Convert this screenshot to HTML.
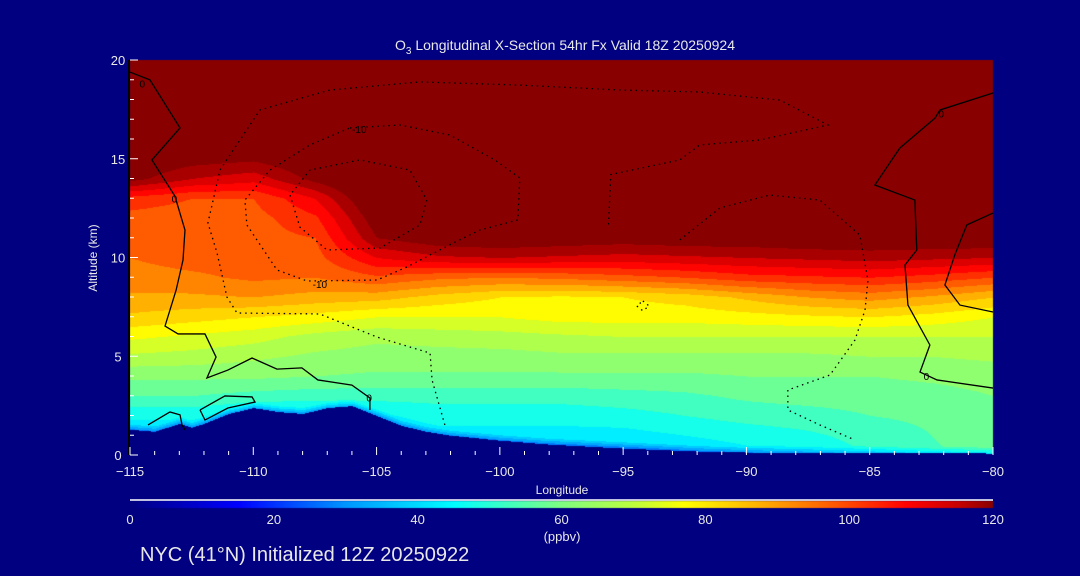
<!DOCTYPE html>
<html><head><meta charset="utf-8"><style>
html,body{margin:0;padding:0;background:#000080;}
#wrap{position:relative;width:1080px;height:576px;background:#000080;overflow:hidden;font-family:"Liberation Sans",sans-serif;color:#e8e8e8}
canvas,svg{position:absolute;left:0;top:0}
</style></head><body>
<div id="wrap">
<canvas id="cv" width="1080" height="576"></canvas>
<svg id="sv" width="1080" height="576"></svg>
</div>
<script>
// ---- data ----
const lons=[-115,-112.5,-110,-107.5,-105,-102.5,-100,-97.5,-95,-92.5,-90,-87.5,-85,-82.5,-80];
const alts=[0,1,2,3,4,5,6,7,8,9,10,11,12,13,14,16,20];
// ozone (ppbv) rows by altitude, columns by longitude
const o3=[
[40,40,40,40,40,40,40,38,38,40,43,46,50,54,57],
[41,41,40,40,41,43,43,43,43,45,47,49,52,55,59],
[46,46,43,43,44,47,47,47,48,50,52,53,55,56,58],
[55,55,53,52,52,52,52,52,53,54,56,57,57,58,60],
[61,61,61,60,59,59,59,59,59,59,60,60,60,61,62],
[69,68,66,64,63,63,63,64,64,64,64,64,65,65,66],
[76,74,72,68,66,67,68,69,70,70,70,70,70,70,70],
[84,82,80,78,75,75,75,77,77,77,78,79,80,78,75],
[89,89,90,88,87,83,80,79,80,82,86,90,92,89,85],
[93,94,96,95,99,96,95,96,98,100,103,104,105,103,100],
[95,97,97,98,110,114,115,114,113,114,115,116,117,116,115],
[97,97,98,100,120,124,125,124,123,124,124,125,125,125,125],
[98,97,98,104,124,128,130,130,130,130,130,130,130,130,130],
[103,100,100,110,128,130,130,130,130,130,130,130,130,130,130],
[122,115,112,122,130,130,130,130,130,130,130,130,130,130,130],
[130,130,130,130,130,130,130,130,130,130,130,130,130,130,130],
[130,130,130,130,130,130,130,130,130,130,130,130,130,130,130]];
const terrLon=[-115,-114,-113,-112.5,-112,-111,-110,-109,-108,-107,-106,-105,-104,-103,-102,-100,-98,-95,-92,-90,-85,-80];
const terrAlt=[1.3,1.2,1.6,1.4,1.6,2.1,2.4,2.2,2.1,2.4,2.5,2.0,1.5,1.2,1.0,0.75,0.55,0.35,0.2,0.15,0.12,0.1];
const xTicks=[-115,-110,-105,-100,-95,-90,-85,-80];
const yTicks=[0,5,10,15,20];
const cbTicks=[0,20,40,60,80,100,120];
// contour lines (lon, alt)
const solidLines=[
[[-115,19.39],[-114.19,18.99],[-112.97,16.56],[-114.11,14.94],[-113.18,13.11],[-112.77,11.39],[-112.85,9.87],[-113.13,8.35],[-113.58,6.53],[-113.05,6.13],[-111.96,6.13],[-111.51,4.96],[-111.88,3.9],[-111.03,4.3],[-110.05,4.91],[-109.04,4.35],[-108.03,4.41],[-107.38,3.8],[-106,3.54],[-105.27,2.89],[-105.27,2.28]],
[[-112.16,2.28],[-111.15,2.99],[-110.05,2.94],[-109.93,2.68],[-111.03,2.38],[-111.96,1.77],[-112.16,2.28]],
[[-114.27,1.52],[-113.38,2.18],[-112.97,2.03],[-112.89,1.52],[-112.77,1.27]],
[[-80,18.33],[-82.15,17.47],[-82.35,17.06],[-83.78,15.54],[-84.79,13.67],[-83.17,12.91],[-83.09,10.38],[-83.57,9.62],[-83.45,7.59],[-82.56,5.57],[-82.96,4.2],[-82.27,3.8],[-80,3.39]],
[[-80,12.25],[-81.06,11.65],[-81.55,10.13],[-81.95,8.61],[-81.34,7.59],[-80,7.24]]];
const dottedLines=[
[[-102.23,1.52],[-102.75,3.8],[-102.83,5.16],[-104.98,5.97],[-107.3,7.14],[-110.66,7.19],[-111.07,8.0],[-111.47,10.23],[-111.84,11.75],[-111.35,14.43],[-109.73,17.47],[-106.89,18.48],[-103.24,18.89],[-99.19,18.73],[-95.13,18.48],[-91.89,18.38],[-88.64,17.97],[-86.69,16.71],[-89.45,15.95],[-91.89,15.7],[-92.7,14.94],[-95.5,14.2],[-95.6,11.5]],
[[-92.7,10.89],[-91.07,12.51],[-89.05,13.16],[-87.02,12.91],[-85.4,11.14],[-85.07,8.86],[-85.19,7.34],[-85.6,5.82],[-86.61,4.05],[-88.32,3.29],[-88.32,2.28],[-87.02,1.52],[-85.6,0.76]],
[[-106.08,16.56],[-104.05,16.71],[-102.02,16.2],[-100.2,14.94],[-99.19,14.03],[-99.27,11.9],[-100.81,11.39],[-101.9,10.73],[-103.77,9.52],[-104.98,8.86],[-107.82,8.81],[-109.04,9.37],[-110.26,11.65],[-110.34,12.91],[-109.32,14.43],[-107.7,15.7],[-106.08,16.56]],
[[-108.51,13.16],[-108.11,11.54],[-107.01,10.38],[-104.86,10.48],[-103.24,11.65],[-102.96,12.91],[-103.65,14.43],[-105.67,14.94],[-107.7,14.43],[-108.51,13.16]],
[[-94.2,7.8],[-93.95,7.55],[-94.2,7.3],[-94.45,7.55],[-94.2,7.8]]];
const contourLabels=[["-10",-105.7,16.5],["-10",-107.3,8.65],["0",-114.5,18.8],["0",-113.2,13.0],["0",-105.3,2.9],["0",-82.7,4.0],["0",-82.1,17.3]];

// ---- axes ----
const X0=130,X1=993,Y0=455,Y1=60;
const xs=l=>X0+(l+115)/35*(X1-X0);
const ys=a=>Y0-a/20*(Y0-Y1);
const stops=[[0,[0,0,128]],[15,[0,0,255]],[30,[0,150,255]],[45,[0,255,255]],[60,[128,255,128]],[70,[190,255,60]],[77,[255,255,0]],[87,[255,180,0]],[97,[255,95,0]],[108,[255,0,0]],[115,[200,0,0]],[120,[136,0,0]]];
function cmap(v){v=Math.max(0,Math.min(120,v));for(let i=1;i<stops.length;i++){if(v<=stops[i][0]){const a=stops[i-1],b=stops[i],t=(v-a[0])/(b[0]-a[0]);return a[1].map((c,k)=>Math.round(c+(b[1][k]-c)*t));}}return stops[stops.length-1][1];}
function interp1(xa,ya,x){if(x<=xa[0])return ya[0];for(let i=1;i<xa.length;i++){if(x<=xa[i]){const t=(x-xa[i-1])/(xa[i]-xa[i-1]);return ya[i-1]+t*(ya[i]-ya[i-1]);}}return ya[ya.length-1];}
function field(lon,alt){
  let i=0;while(i<lons.length-2&&lon>lons[i+1])i++;
  let j=0;while(j<alts.length-2&&alt>alts[j+1])j++;
  const tx=Math.max(0,Math.min(1,(lon-lons[i])/(lons[i+1]-lons[i])));
  const ty=Math.max(0,Math.min(1,(alt-alts[j])/(alts[j+1]-alts[j])));
  const a=o3[j][i],b=o3[j][i+1],c=o3[j+1][i],d=o3[j+1][i+1];
  return (a*(1-tx)+b*tx)*(1-ty)+(c*(1-tx)+d*tx)*ty;
}
const cv=document.getElementById('cv'),ctx=cv.getContext('2d');
ctx.fillStyle='#000080';ctx.fillRect(0,0,1080,576);
const img=ctx.getImageData(0,0,1080,576);
for(let py=Y1;py<Y0;py++){for(let px=X0;px<X1;px++){
  const lon=-115+(px-X0)/(X1-X0)*35, alt=(Y0-py)/(Y0-Y1)*20;
  const t=interp1(terrLon,terrAlt,lon);
  if(alt<t)continue;
  let v=field(lon,alt);
  if(alt-t<0.35)v=Math.min(v,v-(0.35-(alt-t))*40);
  v=Math.floor(v/5)*5+2.5;
  const c=cmap(v);const k=(py*1080+px)*4;img.data[k]=c[0];img.data[k+1]=c[1];img.data[k+2]=c[2];img.data[k+3]=255;}}
// colorbar
for(let px=X0;px<X1;px++){const c=cmap((px-X0)/(X1-X0)*120);for(let py=501;py<508;py++){const k=(py*1080+px)*4;img.data[k]=c[0];img.data[k+1]=c[1];img.data[k+2]=c[2];img.data[k+3]=255;}}
ctx.putImageData(img,0,0);

const NS='http://www.w3.org/2000/svg',sv=document.getElementById('sv');
function mk(tag,attrs,parent){const e=document.createElementNS(NS,tag);for(const k in attrs)e.setAttribute(k,attrs[k]);(parent||sv).appendChild(e);return e;}
function txt(s,x,y,size,anchor,name){const t=mk('text',{x:x,y:y,'font-size':size,'text-anchor':anchor||'middle',fill:'#e8e8e8','font-family':'Liberation Sans, sans-serif'});t.textContent=s;


return t;}
// contours
solidLines.forEach(l=>{const p=mk('polyline',{points:l.map(q=>xs(q[0])+','+ys(q[1])).join(' '),fill:'none',stroke:'#000','stroke-width':1.3});

});
dottedLines.forEach(l=>{const p=mk('polyline',{points:l.map(q=>xs(q[0])+','+ys(q[1])).join(' '),fill:'none',stroke:'#000','stroke-width':1.3,'stroke-dasharray':'1.5 4'});

});
contourLabels.forEach(c=>{const t=mk('text',{x:xs(c[1]),y:ys(c[2])+4,'font-size':10,'text-anchor':'middle',fill:'#000','font-family':'Liberation Sans, sans-serif'});t.textContent=c[0];

});
// axes
mk('line',{x1:X0-1,y1:Y1,x2:X0-1,y2:Y0,stroke:'#000','stroke-width':2});
for(let a=0;a<=20;a++){const l=mk('line',{x1:X0,y1:ys(a),x2:X0+(a%5==0?8:4),y2:ys(a),stroke:'#fff','stroke-width':1});

}
for(let g=-115;g<=-80;g++){const l=mk('line',{x1:xs(g),y1:Y0,x2:xs(g),y2:Y0-(g%5==0?8:4),stroke:'#fff','stroke-width':1});

}
yTicks.forEach(a=>txt(String(a),118,ys(a)+5,13,'middle','y-tick-label'));
xTicks.forEach(g=>txt(String(g).replace('-','\u2212'),xs(g),476,13,'middle','x-tick-label'));
txt('Longitude',562,494,12,'middle','x-axis-title');
const yt=txt('Altitude (km)',0,0,12,'middle','y-axis-title');yt.setAttribute('transform','translate(97,258) rotate(-90)');
const tt=txt('',565,50,14,'middle','chart-title');tt.innerHTML='O<tspan font-size="10" dy="4">3</tspan><tspan dy="-4"> Longitudinal X-Section 54hr  Fx Valid 18Z 20250924</tspan>';
tt.setAttribute('xml:space','preserve');
// colorbar
mk('line',{x1:X0,y1:500,x2:X1,y2:500,stroke:'#fff','stroke-width':1.5});
cbTicks.forEach(v=>txt(String(v),X0+v/120*(X1-X0),524,13,'middle','colorbar-label'));
txt('(ppbv)',562,541,13,'middle','colorbar-unit');
txt('NYC (41°N) Initialized 12Z 20250922',140,561,20,'start','footer-text');
</script>
</body></html>
